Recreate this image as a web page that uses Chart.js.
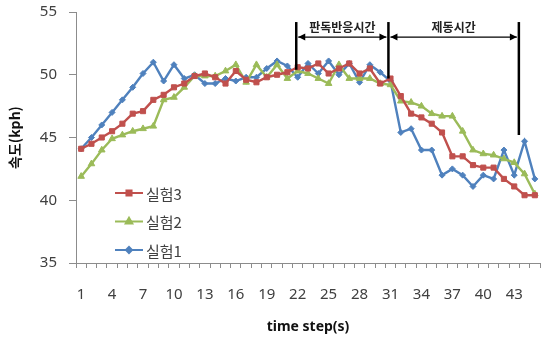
<!DOCTYPE html>
<html>
<head>
<meta charset="utf-8">
<script src="https://cdn.jsdelivr.net/npm/chart.js@4.4.1/dist/chart.umd.min.js"></script>
<style>
  html, body { margin: 0; padding: 0; background: #fff; }
  #wrap { width: 541px; height: 342px; }
</style>
</head>
<body>
<div id="wrap"><canvas id="speedChart" width="541" height="342"></canvas></div>
<script>
// time steps 1..45
const steps = ['1','2','3','4','5','6','7','8','9','10','11','12','13','14','15','16','17','18','19','20',
    '21','22','23','24','25','26','27','28','29','30','31','32','33','34','35','36','37','38','39','40',
    '41','42','43','44','45'];

const exp3 = [44.1, 44.5, 45.0, 45.5, 46.1, 46.9, 47.1, 48.0, 48.4, 49.0, 49.3, 49.9, 50.1, 49.8, 49.3,
    50.3, 49.6, 49.4, 49.8, 50.0, 50.2, 50.6, 50.5, 50.9, 50.1, 50.5, 50.9, 50.1, 50.5, 49.3,
    49.7, 48.3, 46.9, 46.6, 46.1, 45.4, 43.5, 43.5, 42.8, 42.6, 42.6, 41.7, 41.1, 40.4, 40.4];
const exp2 = [41.9, 42.9, 44.0, 44.9, 45.2, 45.5, 45.7, 45.9, 48.0, 48.2, 49.0, 49.9, 49.9, 49.9, 50.3,
    50.8, 49.4, 50.8, 49.8, 50.8, 49.7, 50.3, 50.1, 49.7, 49.3, 50.8, 49.7, 49.7, 49.7, 49.3,
    49.2, 47.9, 47.8, 47.5, 46.9, 46.7, 46.7, 45.5, 44.0, 43.7, 43.6, 43.3, 43.0, 42.1, 40.5];
const exp1 = [44.1, 45.0, 46.0, 47.0, 48.0, 49.0, 50.1, 51.0, 49.5, 50.8, 49.7, 50.0, 49.3, 49.3, 49.7,
    49.5, 49.8, 49.8, 50.5, 51.1, 50.7, 49.8, 50.9, 50.1, 51.1, 50.0, 50.9, 49.4, 50.8, 50.2,
    49.5, 45.4, 45.7, 44.0, 44.0, 42.0, 42.5, 42.0, 41.1, 42.0, 41.7, 44.0, 42.0, 44.7, 41.7];

const yTicks = [35, 40, 45, 50, 55];

// phase markers (x as category index, y range in kph)
const markerX = [20.86, 29.8, 42.45];
const markerTop = 54.2;
const markerBottom = [50.4, 49.7, 45.2];
const phaseLabels = ['판독반응시간', '제동시간'];
const arrowY = 53.0;
const labelY = 53.8;

const textColor = '#404040';
const baseFont = "'Noto Sans', 'Noto Sans CJK KR', sans-serif";
const krFont = "'Noto Sans CJK KR', 'Noto Sans', sans-serif";

// vertical phase lines, arrows and labels
const phasePlugin = {
    id: 'phases',
    afterDatasetsDraw(chart) {
        const ctx = chart.ctx;
        const xs = chart.scales.x, ys = chart.scales.y;
        const top = ys.getPixelForValue(markerTop);
        ctx.save();
        ctx.strokeStyle = '#000';
        ctx.fillStyle = '#000';
        ctx.lineWidth = 2.5;
        const px = markerX.map(v => xs.getPixelForValue(v));
        px.forEach((x, i) => {
            ctx.beginPath();
            ctx.moveTo(x, top);
            ctx.lineTo(x, ys.getPixelForValue(markerBottom[i]));
            ctx.stroke();
        });
        const ay = ys.getPixelForValue(arrowY);
        const ly = ys.getPixelForValue(labelY);
        ctx.lineWidth = 1.3;
        for (let i = 0; i < 2; i++) {
            const a = px[i] + 2, b = px[i + 1] - 2;
            ctx.fillStyle = '#000';
            ctx.beginPath();
            ctx.moveTo(a, ay);
            ctx.lineTo(b, ay);
            ctx.stroke();
            // arrow heads
            ctx.beginPath();
            ctx.moveTo(a, ay); ctx.lineTo(a + 7, ay - 3.5); ctx.lineTo(a + 7, ay + 3.5); ctx.closePath();
            ctx.fill();
            ctx.beginPath();
            ctx.moveTo(b, ay); ctx.lineTo(b - 7, ay - 3.5); ctx.lineTo(b - 7, ay + 3.5); ctx.closePath();
            ctx.fill();
            ctx.font = 'bold 12px ' + krFont;
            ctx.fillStyle = '#222';
            ctx.textAlign = 'center';
            ctx.textBaseline = 'middle';
            ctx.fillText(phaseLabels[i], (px[i] + px[i + 1]) / 2, ly);
        }
        ctx.restore();
    }
};

// legend inside the plot, bottom left
const legendPlugin = {
    id: 'insideLegend',
    afterDraw(chart) {
        const ctx = chart.ctx;
        const area = chart.chartArea;
        const rowGap = 28.5;
        const startY = area.bottom - 70;
        ctx.save();
        chart.data.datasets.forEach((ds, r) => {
            const y = startY + r * rowGap;
            const x0 = area.left + 39, x1 = area.left + 67;
            ctx.strokeStyle = ds.borderColor;
            ctx.fillStyle = ds.borderColor;
            ctx.lineWidth = 2;
            ctx.beginPath();
            ctx.moveTo(x0, y);
            ctx.lineTo(x1, y);
            ctx.stroke();
            Chart.helpers.drawPoint(ctx, {
                pointStyle: ds.pointStyle,
                radius: ds.pointRadius,
                borderWidth: 1
            }, (x0 + x1) / 2, y);
            ctx.fillStyle = textColor;
            ctx.font = '15px ' + krFont;
            ctx.textAlign = 'left';
            ctx.textBaseline = 'middle';
            ctx.fillText(ds.label, x1 + 3, y + 1);
        });
        ctx.restore();
    }
};

new Chart(document.getElementById('speedChart').getContext('2d'), {
    type: 'line',
    data: {
        labels: steps,
        datasets: [
            {
                label: '실험3', data: exp3,
                borderColor: '#C0504D', backgroundColor: '#C0504D',
                pointStyle: 'rect', pointRadius: 3.6, pointBorderWidth: 1,
                borderWidth: 2.4, tension: 0
            },
            {
                label: '실험2', data: exp2,
                borderColor: '#9BBB59', backgroundColor: '#9BBB59',
                pointStyle: 'triangle', pointRadius: 3.8, pointBorderWidth: 1,
                borderWidth: 2.4, tension: 0
            },
            {
                label: '실험1', data: exp1,
                borderColor: '#4F81BD', backgroundColor: '#4F81BD',
                pointStyle: 'rectRot', pointRadius: 3, pointBorderWidth: 1,
                borderWidth: 2.4, tension: 0
            }
        ]
    },
    options: {
        responsive: false,
        animation: false,
        layout: { autoPadding: false, padding: { top: 12, right: 1, left: 0, bottom: 0 } },
        plugins: {
            legend: { display: false },
            tooltip: { enabled: false }
        },
        scales: {
            x: {
                type: 'category',
                offset: true,
                afterFit(scale) {
                    scale.height = 79;
                    scale.paddingLeft = 0;
                    scale.paddingRight = 0;
                },
                grid: {
                    drawOnChartArea: false,
                    drawTicks: true,
                    tickLength: 5,
                    color: '#8c8c8c',
                    offset: true
                },
                border: { color: '#8c8c8c', width: 1 },
                ticks: {
                    autoSkip: false,
                    maxRotation: 0,
                    padding: 18,
                    color: textColor,
                    font: { family: baseFont, size: 15 },
                    callback(value, index) { return index % 3 === 0 ? steps[index] : ''; }
                },
                title: {
                    display: true,
                    text: 'time step(s)',
                    color: '#111',
                    font: { family: baseFont, size: 14, weight: 'bold' },
                    padding: { top: 0, bottom: 7 }
                }
            },
            y: {
                min: 35,
                max: 55,
                afterFit(scale) {
                    scale.width = 76;
                    scale.paddingTop = 0;
                    scale.paddingBottom = 0;
                },
                afterBuildTicks(scale) { scale.ticks = yTicks.map(v => ({ value: v })); },
                grid: {
                    drawOnChartArea: false,
                    drawTicks: true,
                    tickLength: 7,
                    color: '#8c8c8c'
                },
                border: { color: '#8c8c8c', width: 1 },
                ticks: {
                    padding: 12,
                    color: textColor,
                    font: { family: baseFont, size: 15 }
                },
                title: {
                    display: true,
                    text: '속도(kph)',
                    color: '#111',
                    font: { family: krFont, size: 14, weight: 'bold' },
                    padding: { top: 6, bottom: 0 }
                }
            }
        }
    },
    plugins: [phasePlugin, legendPlugin]
});
</script>
</body>
</html>
